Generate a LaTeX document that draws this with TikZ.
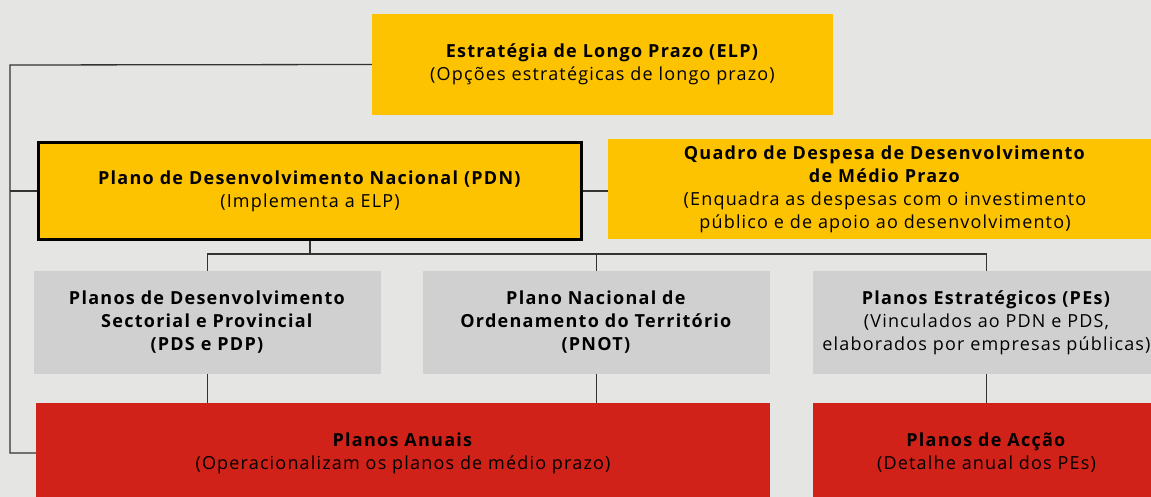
\documentclass[tikz,border=0pt]{standalone}
\usepackage{fontspec}
\setmainfont{Open Sans}[LetterSpace=6.5, BoldFeatures={LetterSpace=7}]
\usetikzlibrary{positioning}
\definecolor{fundo}{HTML}{E5E5E3}
\definecolor{amarelo}{HTML}{FDC300}
\definecolor{cinza}{HTML}{D0D0D0}
\definecolor{vermelho}{HTML}{D12219}
\definecolor{linha}{HTML}{333333}

\begin{document}
\begin{tikzpicture}[x=1pt,y=-1pt,
    caixa/.style={rectangle, inner sep=0pt, align=center,
      font=\fontsize{18}{23}\selectfont},
    amarela/.style={caixa, fill=amarelo},
    cinzenta/.style={caixa, fill=cinza, minimum width=347pt, minimum height=103pt},
    vermelha/.style={caixa, fill=vermelho, minimum height=100pt},
    liga/.style={draw=linha, line width=1.3pt}]
        % Fundo
        \fill[fundo] (0,0) rectangle (1151,497);
        \useasboundingbox (0,0) rectangle (1151,497);
        \clip (0,0) rectangle (1151,497);
        % Nivel estrategico
        \node[amarela, minimum width=461pt, minimum height=101pt] (elp) at (602.5,64.5)
            {\textbf{Estratégia de Longo Prazo (ELP)}\\(Opções estratégicas de longo prazo)};
        \node[amarela, draw=black, line width=3pt, minimum width=543pt, minimum height=97pt] (pdn) at (310,191)
            {\textbf{Plano de Desenvolvimento Nacional (PDN)}\\(Implementa a ELP)};
        \node[amarela, minimum width=554pt, minimum height=100pt] (qddm) at (885,189)
            {\textbf{Quadro de Despesa de Desenvolvimento}\\\textbf{de Médio Prazo}\\(Enquadra as despesas com o investimento\\público e de apoio ao desenvolvimento)};
        % Planos de medio prazo
        \node[cinzenta] (pds) at (207.5,322.5)
            {\textbf{Planos de Desenvolvimento}\\\textbf{Sectorial e Provincial}\\\textbf{(PDS e PDP)}};
        \node[cinzenta] (pnot) at (596.5,322.5)
            {\textbf{Plano Nacional de}\\\textbf{Ordenamento do Território}\\\textbf{(PNOT)}};
        \node[cinzenta] (pes) at (986.5,322.5)
            {\textbf{Planos Estratégicos (PEs)}\\(Vinculados ao PDN e PDS,\\elaborados por empresas públicas)};
        % Planos anuais
        \node[vermelha, minimum width=734pt] (anuais) at (403,453)
            {\textbf{Planos Anuais}\\(Operacionalizam os planos de médio prazo)};
        \node[vermelha, minimum width=347pt] (accao) at (986.5,453)
            {\textbf{Planos de Acção}\\(Detalhe anual dos PEs)};
        % Ligacoes
        \coordinate (topo) at (10,65);
        \coordinate (base) at (10,453);
        \coordinate (barra) at (310,254);
        \draw[liga] (elp.west) -- (topo) -- (base) -- (anuais.west);
        \draw[liga] (pdn.west) -- (pdn.west -| topo);
        \draw[liga] (pdn.east) -- (pdn.east -| qddm.west);
        \draw[liga] (pdn.south) -- (barra);
        \draw[liga] (pds.north) -- (pds.north |- barra) -- (pes.north |- barra) -- (pes.north);
        \draw[liga] (pnot.north) -- (pnot.north |- barra);
        \draw[liga] (pds.south) -- (pds.south |- anuais.north);
        \draw[liga] (pnot.south) -- (pnot.south |- anuais.north);
        \draw[liga] (pes.south) -- (accao.north);
\end{tikzpicture}
\end{document}
